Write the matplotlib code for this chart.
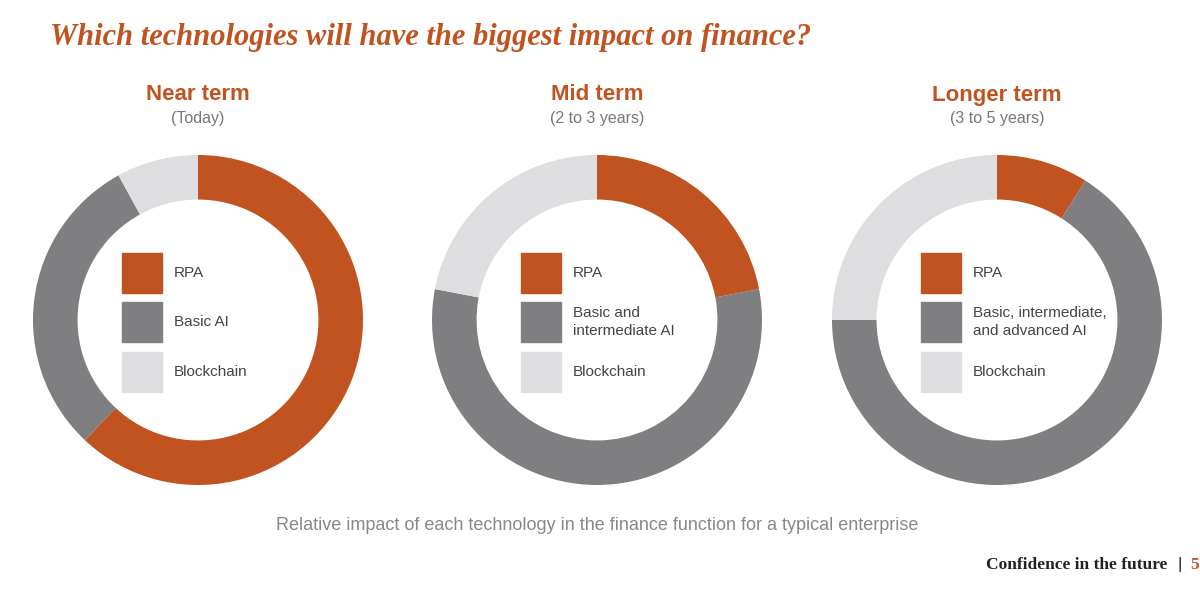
import matplotlib
matplotlib.use("Agg")
import matplotlib.pyplot as plt
from matplotlib.patches import Rectangle

plt.rcParams['font.family'] = ['Liberation Sans', 'DejaVu Sans']

titles = ["Near term", "Mid term", "Longer term"]
subtitles = ["(Today)", "(2 to 3 years)", "(3 to 5 years)"]
legend_labels = [["RPA", "Basic AI", "Blockchain"],
                 ["RPA", "Basic and\nintermediate AI", "Blockchain"],
                 ["RPA", "Basic, intermediate,\nand advanced AI", "Blockchain"]]
rpa = [62, 22, 9]
basic_ai = [30, 56, 66]
blockchain = [8, 22, 25]

colors = ["#C0531F", "#7F7E80", "#DEDDDF"]
orange = "#C0531F"
W, H = 1200, 611
fig = plt.figure(figsize=(12, 6.11), dpi=100)
fig.patch.set_facecolor("white")

def fx(x): return x / W
def fy(y): return 1 - y / H

fig.text(fx(50), fy(38), "Which technologies will have the biggest impact on finance?",
         color=orange, fontsize=22, fontstyle="italic", fontweight="bold",
         family="Liberation Serif", va="center")

centers = [198, 597, 997]
R = 165
for i, cx in enumerate(centers):
    ax = fig.add_axes([fx(cx - R), fy(320 + R), 2 * R / W, 2 * R / H])
    ax.pie([rpa[i], basic_ai[i], blockchain[i]], colors=colors, startangle=90,
           counterclock=False, radius=1, wedgeprops=dict(width=0.27, edgecolor="none"))
    ax.set_aspect("equal")
    ax.set_xlim(-1, 1); ax.set_ylim(-1, 1)
    ax.axis("off")
    fig.text(fx(cx), fy(95), titles[i], color=orange, fontsize=16, fontweight="bold",
             ha="center", va="center")
    fig.text(fx(cx), fy(119), subtitles[i], color="#777777", fontsize=11.5,
             ha="center", va="center")
    sx = cx - 76
    for j, (y0, y1) in enumerate([(253, 293), (302, 342), (352, 392)]):
        fig.patches.append(Rectangle((fx(sx), fy(y1)), 40 / W, (y1 - y0) / H,
                                     transform=fig.transFigure, color=colors[j]))
        fig.text(fx(sx + 52), fy((y0 + y1) / 2), legend_labels[i][j], color="#444444",
                 fontsize=11, va="center", ha="left", linespacing=1.3)

fig.text(fx(597), fy(525), "Relative impact of each technology in the finance function for a typical enterprise",
         color="#888888", fontsize=13, ha="center", va="center")
fig.text(fx(1167), fy(565), "Confidence in the future", color="#222222", fontsize=12.5,
         fontweight="bold", family="Liberation Serif", ha="right", va="center")
fig.text(fx(1180), fy(565), "|", color="#222222", fontsize=12, ha="center", va="center")
fig.text(fx(1199), fy(565), "5", color=orange, fontsize=12.5, fontweight="bold",
         family="Liberation Serif", ha="right", va="center")

fig.savefig("out.png", dpi=100)
